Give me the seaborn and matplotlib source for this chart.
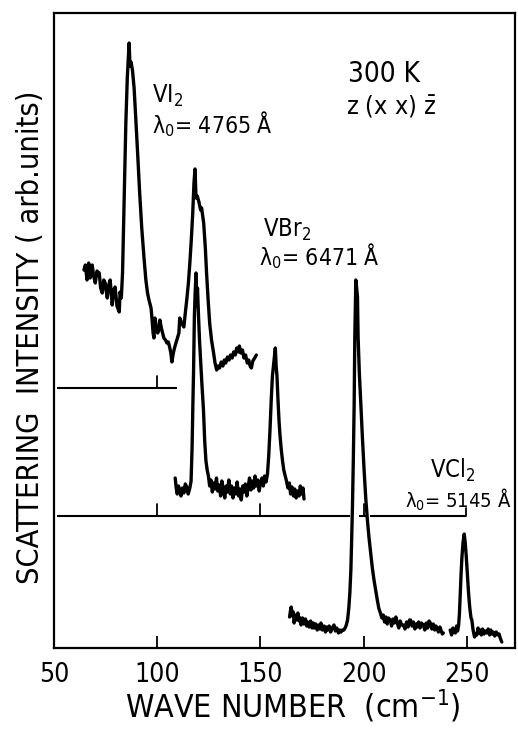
import numpy as np
import pandas as pd
import seaborn as sns
import matplotlib
matplotlib.use("Agg")
import matplotlib.pyplot as plt

# ---- Raman spectra at 300 K, z(xx)z-bar geometry ----
# wave numbers in cm^-1, intensities in arbitrary units above each trace's own baseline

vi2_wn = [64.5, 65.2, 66.0, 66.8, 67.5, 68.5, 69.2, 70.0, 70.8, 71.9, 72.6, 73.4, 74.1, 74.8,
          75.8, 76.5, 77.2, 78.2, 78.9, 79.6, 80.5, 81.6, 82.0, 82.6, 83.2, 84.0, 84.8, 85.5,
          86.0, 86.4, 86.8, 87.3, 88.0, 88.8, 89.6, 90.5, 91.5, 92.5, 93.6, 94.5, 95.3, 96.0,
          97.0, 97.4, 98.0, 98.4, 98.9, 99.5, 100.2, 100.8, 101.3, 102.0, 102.6, 103.2, 104.0,
          104.7, 105.4, 106.1, 106.6, 107.1, 107.8, 108.5, 109.5, 110.5, 110.9, 111.8, 112.9,
          113.6, 114.3, 115.1, 115.8, 116.5, 117.2, 117.8, 118.3, 118.8, 119.4, 120.2, 121.0,
          121.5, 122.5, 123.3, 123.9, 124.6, 125.4, 126.3, 127.3, 128.0, 128.8, 129.5, 130.2,
          131.0, 131.8, 132.5, 133.2, 134.0, 134.8, 135.5, 136.3, 137.0, 137.8, 138.5, 139.3,
          139.8, 140.5, 141.3, 142.0, 142.8, 143.6, 144.3, 145.0, 145.6, 146.3, 147.2, 148.0]
vi2_int = [118, 123, 108, 125, 110, 123, 112, 105, 117, 115, 100, 95, 108, 105,
           90, 103, 108, 83, 98, 101, 82, 76, 96, 90, 115, 190, 265, 310,
           330, 345, 322, 326, 318, 300, 270, 235, 195, 160, 130, 108, 95, 88,
           80, 71, 55, 50, 70, 62, 55, 58, 68, 60, 55, 50, 48,
           45, 46, 40, 35, 26, 35, 41, 48, 55, 70, 65, 61,
           75, 88, 105, 125, 148, 175, 205, 219, 190, 192, 186, 178,
           180, 165, 140, 115, 90, 65, 48, 35, 25, 18, 22, 20,
           26, 22, 28, 25, 31, 28, 33, 30, 36, 33, 40, 36,
           42, 35, 38, 30, 33, 25, 28, 22, 20, 27, 30, 33]

vbr2_wn = [108.7, 109.2, 109.7, 110.3, 110.9, 111.5, 112.2, 112.9, 113.6, 114.3, 115.0, 115.8,
           116.4, 116.9, 117.3, 117.6, 118.0, 118.4, 118.8, 119.1, 119.5, 120.0, 120.5, 121.0,
           121.7, 122.4, 123.0, 123.6, 124.2, 124.8, 125.4, 126.0, 126.7, 127.3, 128.0, 128.7,
           129.3, 130.0, 130.7, 131.3, 132.0, 132.7, 133.4, 134.0, 134.7, 135.4, 136.0, 136.7,
           137.4, 138.0, 138.7, 139.4, 140.0, 140.7, 141.4, 142.0, 142.7, 143.4, 144.0, 144.7,
           145.4, 146.0, 146.7, 147.4, 148.0, 148.7, 149.4, 150.0, 150.7, 151.4, 152.0, 152.7,
           153.4, 154.0, 154.6, 155.2, 155.8, 156.3, 156.8, 157.2, 157.6, 158.0, 158.5, 159.0,
           159.5, 160.1, 160.7, 161.3, 162.0, 162.6, 163.3, 164.0, 164.6, 165.3, 166.0, 166.6,
           167.3, 168.0, 168.7, 169.3, 170.0, 170.6, 171.1]
vbr2_int = [38, 28, 22, 30, 26, 20, 28, 23, 32, 29, 22, 28,
            35, 70, 115, 145, 200, 225, 243, 210, 228, 200, 175, 156,
            130, 106, 75, 55, 46, 40, 30, 36, 24, 33, 27, 38,
            25, 31, 20, 35, 27, 18, 30, 24, 36, 22, 30, 18,
            28, 22, 34, 20, 27, 16, 30, 24, 32, 20, 28, 38,
            26, 35, 28, 40, 30, 36, 25, 33, 38, 30, 40, 34,
            42, 60, 85, 115, 140, 150, 160, 168, 150, 140, 116, 95,
            80, 66, 55, 46, 40, 35, 28, 33, 22, 29, 20, 27,
            18, 25, 20, 30, 22, 28, 17]

vcl2_wn_a = [164.1, 164.6, 164.9, 165.4, 165.9, 166.3, 167.0, 167.6, 168.1, 168.8, 169.3, 169.7,
             170.4, 171.1, 171.8, 172.4, 172.9, 173.6, 174.3, 175.0, 175.6, 176.0, 176.8, 177.5,
             178.2, 178.8, 179.3, 180.0, 180.8, 181.5, 182.0, 182.6, 183.3, 184.0, 184.8, 185.6,
             186.3, 187.0, 187.8, 188.5, 189.0, 189.7, 190.4, 191.0, 191.6, 192.2, 192.8, 193.3,
             193.8, 194.2, 194.6, 195.0, 195.4, 195.7, 196.0, 196.2, 196.6, 197.0, 197.3, 197.9,
             198.6, 199.4, 200.2, 201.0, 201.8, 202.6, 203.4, 204.2, 205.0, 205.8, 206.6, 207.3,
             208.1, 208.8, 209.5, 210.1, 210.8, 211.4, 212.0, 212.9, 213.5, 214.2, 214.9, 215.6,
             216.3, 217.0, 217.7, 218.4, 219.3, 220.0, 220.8, 221.5, 222.2, 222.7, 223.4, 224.1,
             224.8, 225.5, 225.9, 226.6, 227.3, 228.0, 228.9, 229.6, 230.3, 231.0, 231.7, 232.3,
             233.0, 233.7, 234.4, 235.0, 235.5, 236.2, 236.9, 237.6, 238.1, 238.6]
vcl2_int_a = [31, 38, 41, 32, 36, 25, 33, 28, 35, 27, 30, 23,
              30, 24, 29, 22, 26, 21, 27, 20, 25, 20, 24, 18,
              23, 19, 25, 18, 22, 16, 21, 18, 22, 16, 20, 23,
              17, 20, 15, 18, 16, 18, 18, 20, 23, 28, 40, 55,
              78, 110, 145, 190, 245, 311, 345, 368, 360, 351, 311, 275,
              245, 210, 178, 150, 128, 110, 95, 80, 68, 58, 48, 40,
              35, 30, 33, 26, 31, 24, 30, 28, 22, 29, 25, 31,
              25, 20, 27, 23, 23, 19, 26, 21, 28, 28, 22, 26,
              19, 24, 21, 26, 20, 25, 23, 18, 25, 20, 27, 25,
              19, 24, 18, 22, 20, 16, 21, 17, 14, 15]

vcl2_wn_b = [241.9, 242.6, 243.2, 243.8, 244.4, 245.0, 245.5, 246.0, 246.4, 246.8, 247.2, 247.6,
             248.1, 248.7, 249.2, 249.7, 250.2, 250.8, 251.4, 252.0, 252.4, 253.0, 253.7, 254.2,
             254.8, 255.4, 256.0, 256.4, 257.0, 257.6, 258.3, 259.0, 259.6, 260.3, 261.0, 261.6,
             262.2, 262.8, 263.5, 264.2, 265.0, 265.6, 266.0, 266.5, 266.9]
vcl2_int_b = [18, 13, 20, 16, 15, 22, 17, 23, 35, 55, 75, 91,
              105, 114, 105, 91, 75, 55, 40, 30, 28, 18, 11, 14,
              13, 20, 15, 18, 13, 19, 14, 17, 15, 19, 13, 18,
              14, 16, 12, 16, 13, 14, 11, 8, 6]

# vertical offsets of the stacked traces (VCl2 sits on the frame's bottom edge)
offset_vi2 = 260
offset_vbr2 = 132
offset_vcl2 = 0

# baseline extents and wave-number marks drawn on the baselines
vi2_base_span = [(51.4, 109.6)]
vi2_base_ticks = [100]
vbr2_base_span = [(51.4, 193.2), (197.6, 201.0), (202.9, 249.8)]
vbr2_base_ticks = [100, 150, 200, 249.8]

x_ticks = [50, 100, 150, 200, 250]

sns.set_theme(style="ticks")
plt.rcParams["font.family"] = ["DejaVu Sans"]
plt.rcParams["font.stretch"] = "condensed"
plt.rcParams["text.color"] = "black"
plt.rcParams["axes.labelcolor"] = "black"
plt.rcParams["xtick.color"] = "black"
plt.rcParams["mathtext.fontset"] = "dejavusans"

fig = plt.figure(figsize=(5.18, 7.29), dpi=100)
ax = fig.add_axes([54 / 518, 1 - 648 / 729, (515 - 54) / 518, (648 - 13) / 729])

lw = 2.4
traces = [
    (vi2_wn, vi2_int, offset_vi2),
    (vbr2_wn, vbr2_int, offset_vbr2),
    (vcl2_wn_a, vcl2_int_a, offset_vcl2),
    (vcl2_wn_b, vcl2_int_b, offset_vcl2),
]
for wn, inten, off in traces:
    df = pd.DataFrame({"wn": wn, "I": np.asarray(inten, float) + off})
    sns.lineplot(data=df, x="wn", y="I", ax=ax, color="black", lw=lw,
                 estimator=None, sort=False)

# offset baselines with their own scale marks
tick_len = 12
for spans, ticks, off in [(vi2_base_span, vi2_base_ticks, offset_vi2),
                          (vbr2_base_span, vbr2_base_ticks, offset_vbr2)]:
    for a, b in spans:
        ax.plot([a, b], [off, off], color="black", lw=1.5, solid_capstyle="butt")
    for t in ticks:
        h = 8 if t > 245 else tick_len
        ax.plot([t, t], [off, off + h], color="black", lw=1.3)

ax.set_xlim(51.4, 273.3)
ax.set_ylim(0, 635)
ax.set_xticks(x_ticks)
ax.set_xticklabels([str(t) for t in x_ticks], fontsize=19)
ax.set_yticks([])
ax.tick_params(axis="x", direction="in", length=9, width=1.3, pad=10,
               colors="black")
for s in ax.spines.values():
    s.set_visible(True)
    s.set_linewidth(1.6)
    s.set_color("black")

ax.set_xlabel("WAVE NUMBER  (cm$^{-1}$)", fontsize=23)
ax.xaxis.set_label_coords(0.518, -0.062)
ax.set_ylabel("SCATTERING  INTENSITY ( arb.units)", fontsize=22)
ax.yaxis.set_label_coords(-0.052, 0.49)
ax.yaxis.label.set_va("center")

ax.text(97.4, 545, "VI$_2$", fontsize=17, ha="left", va="baseline")
ax.text(97.4, 515, "λ$_0$= 4765 Å", fontsize=16.5, ha="left", va="baseline")
ax.text(192.3, 566, "300 K", fontsize=20, ha="left", va="baseline")
ax.text(191.3, 533, "z (x x) $\\bar{\\mathrm{z}}$", fontsize=18, ha="left", va="baseline")
ax.text(151.4, 411, "VBr$_2$", fontsize=17, ha="left", va="baseline")
ax.text(149.5, 383, "λ$_0$= 6471 Å", fontsize=16.5, ha="left", va="baseline")
ax.text(232.3, 170, "VCl$_2$", fontsize=17, ha="left", va="baseline")
ax.text(220.0, 140, "λ$_0$= 5145 Å", fontsize=14.5, ha="left", va="baseline")

fig.savefig("out.png", dpi=100, facecolor="white")
